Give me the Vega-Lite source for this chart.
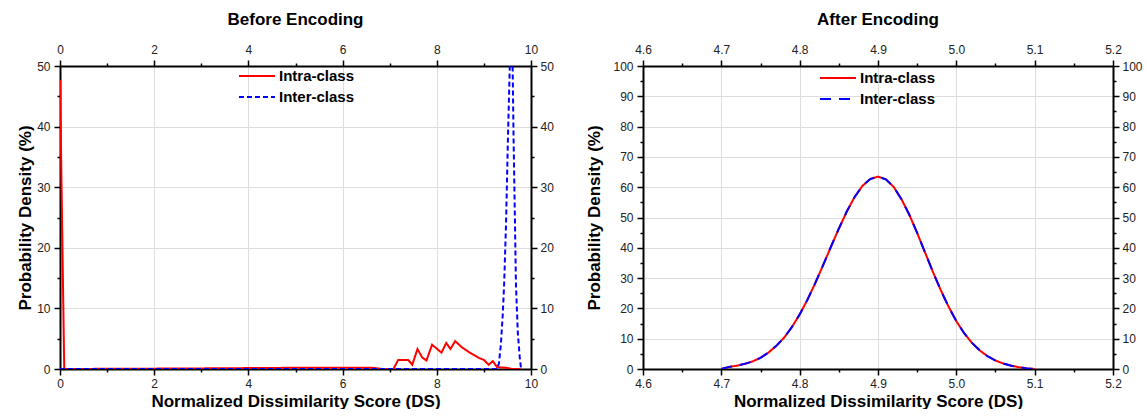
{
  "$schema": "https://vega.github.io/schema/vega-lite/v6.json",
  "background": "white",
  "padding": {"left": 16, "top": 11, "right": 0, "bottom": 0},
  "spacing": 31,
  "datasets": {
    "before": [
      {"x": 0, "y": 47.7, "series": "Intra-class"},
      {"x": 0.09, "y": 0.0, "series": "Intra-class"},
      {"x": 1, "y": 0.03, "series": "Intra-class"},
      {"x": 2, "y": 0.06, "series": "Intra-class"},
      {"x": 3, "y": 0.1, "series": "Intra-class"},
      {"x": 4, "y": 0.15, "series": "Intra-class"},
      {"x": 5, "y": 0.2, "series": "Intra-class"},
      {"x": 6, "y": 0.22, "series": "Intra-class"},
      {"x": 6.6, "y": 0.22, "series": "Intra-class"},
      {"x": 6.75, "y": 0.1, "series": "Intra-class"},
      {"x": 6.85, "y": 0.0, "series": "Intra-class"},
      {"x": 7.08, "y": 0.0, "series": "Intra-class"},
      {"x": 7.18, "y": 1.5, "series": "Intra-class"},
      {"x": 7.39, "y": 1.5, "series": "Intra-class"},
      {"x": 7.48, "y": 0.7, "series": "Intra-class"},
      {"x": 7.59, "y": 3.3, "series": "Intra-class"},
      {"x": 7.69, "y": 1.9, "series": "Intra-class"},
      {"x": 7.78, "y": 1.4, "series": "Intra-class"},
      {"x": 7.9, "y": 4.0, "series": "Intra-class"},
      {"x": 8.1, "y": 2.7, "series": "Intra-class"},
      {"x": 8.2, "y": 4.3, "series": "Intra-class"},
      {"x": 8.29, "y": 3.3, "series": "Intra-class"},
      {"x": 8.39, "y": 4.6, "series": "Intra-class"},
      {"x": 8.53, "y": 3.6, "series": "Intra-class"},
      {"x": 8.7, "y": 2.7, "series": "Intra-class"},
      {"x": 8.9, "y": 1.8, "series": "Intra-class"},
      {"x": 9.0, "y": 1.5, "series": "Intra-class"},
      {"x": 9.1, "y": 0.7, "series": "Intra-class"},
      {"x": 9.19, "y": 1.3, "series": "Intra-class"},
      {"x": 9.28, "y": 0.3, "series": "Intra-class"},
      {"x": 9.48, "y": 0.2, "series": "Intra-class"},
      {"x": 9.59, "y": 0.0, "series": "Intra-class"},
      {"x": 9.78, "y": 0.0, "series": "Intra-class"},
      {"x": 0, "y": 0, "series": "Inter-class"},
      {"x": 9.28, "y": 0, "series": "Inter-class"},
      {"x": 9.32, "y": 1, "series": "Inter-class"},
      {"x": 9.36, "y": 4, "series": "Inter-class"},
      {"x": 9.4, "y": 9, "series": "Inter-class"},
      {"x": 9.43, "y": 14, "series": "Inter-class"},
      {"x": 9.47, "y": 24, "series": "Inter-class"},
      {"x": 9.51, "y": 38, "series": "Inter-class"},
      {"x": 9.55, "y": 52, "series": "Inter-class"},
      {"x": 9.58, "y": 58, "series": "Inter-class"},
      {"x": 9.61, "y": 50, "series": "Inter-class"},
      {"x": 9.63, "y": 38, "series": "Inter-class"},
      {"x": 9.66, "y": 24, "series": "Inter-class"},
      {"x": 9.68, "y": 14, "series": "Inter-class"},
      {"x": 9.72, "y": 6, "series": "Inter-class"},
      {"x": 9.76, "y": 2, "series": "Inter-class"},
      {"x": 9.79, "y": 0, "series": "Inter-class"}
    ],
    "after": [
      {"x": 4.70, "y": 0, "series": "Intra-class"},
      {"x": 4.71, "y": 0.7, "series": "Intra-class"},
      {"x": 4.72, "y": 1.1, "series": "Intra-class"},
      {"x": 4.73, "y": 1.7, "series": "Intra-class"},
      {"x": 4.74, "y": 2.5, "series": "Intra-class"},
      {"x": 4.75, "y": 3.7, "series": "Intra-class"},
      {"x": 4.76, "y": 5.4, "series": "Intra-class"},
      {"x": 4.77, "y": 7.6, "series": "Intra-class"},
      {"x": 4.78, "y": 10.3, "series": "Intra-class"},
      {"x": 4.79, "y": 13.8, "series": "Intra-class"},
      {"x": 4.80, "y": 18.0, "series": "Intra-class"},
      {"x": 4.81, "y": 22.9, "series": "Intra-class"},
      {"x": 4.82, "y": 28.4, "series": "Intra-class"},
      {"x": 4.83, "y": 34.3, "series": "Intra-class"},
      {"x": 4.84, "y": 40.4, "series": "Intra-class"},
      {"x": 4.85, "y": 46.3, "series": "Intra-class"},
      {"x": 4.86, "y": 51.9, "series": "Intra-class"},
      {"x": 4.87, "y": 56.7, "series": "Intra-class"},
      {"x": 4.88, "y": 60.4, "series": "Intra-class"},
      {"x": 4.89, "y": 62.7, "series": "Intra-class"},
      {"x": 4.90, "y": 63.5, "series": "Intra-class"},
      {"x": 4.91, "y": 62.6, "series": "Intra-class"},
      {"x": 4.92, "y": 60.1, "series": "Intra-class"},
      {"x": 4.93, "y": 56.0, "series": "Intra-class"},
      {"x": 4.94, "y": 50.9, "series": "Intra-class"},
      {"x": 4.95, "y": 44.9, "series": "Intra-class"},
      {"x": 4.96, "y": 38.5, "series": "Intra-class"},
      {"x": 4.97, "y": 32.1, "series": "Intra-class"},
      {"x": 4.98, "y": 26.1, "series": "Intra-class"},
      {"x": 4.99, "y": 20.6, "series": "Intra-class"},
      {"x": 5.00, "y": 15.8, "series": "Intra-class"},
      {"x": 5.01, "y": 11.8, "series": "Intra-class"},
      {"x": 5.02, "y": 8.6, "series": "Intra-class"},
      {"x": 5.03, "y": 6.1, "series": "Intra-class"},
      {"x": 5.04, "y": 4.2, "series": "Intra-class"},
      {"x": 5.05, "y": 2.8, "series": "Intra-class"},
      {"x": 5.06, "y": 1.8, "series": "Intra-class"},
      {"x": 5.07, "y": 1.1, "series": "Intra-class"},
      {"x": 5.08, "y": 0.6, "series": "Intra-class"},
      {"x": 5.09, "y": 0.2, "series": "Intra-class"},
      {"x": 5.10, "y": 0, "series": "Intra-class"},
      {"x": 4.70, "y": 0, "series": "Inter-class"},
      {"x": 4.71, "y": 0.7, "series": "Inter-class"},
      {"x": 4.72, "y": 1.1, "series": "Inter-class"},
      {"x": 4.73, "y": 1.7, "series": "Inter-class"},
      {"x": 4.74, "y": 2.5, "series": "Inter-class"},
      {"x": 4.75, "y": 3.7, "series": "Inter-class"},
      {"x": 4.76, "y": 5.4, "series": "Inter-class"},
      {"x": 4.77, "y": 7.6, "series": "Inter-class"},
      {"x": 4.78, "y": 10.3, "series": "Inter-class"},
      {"x": 4.79, "y": 13.8, "series": "Inter-class"},
      {"x": 4.80, "y": 18.0, "series": "Inter-class"},
      {"x": 4.81, "y": 22.9, "series": "Inter-class"},
      {"x": 4.82, "y": 28.4, "series": "Inter-class"},
      {"x": 4.83, "y": 34.3, "series": "Inter-class"},
      {"x": 4.84, "y": 40.4, "series": "Inter-class"},
      {"x": 4.85, "y": 46.3, "series": "Inter-class"},
      {"x": 4.86, "y": 51.9, "series": "Inter-class"},
      {"x": 4.87, "y": 56.7, "series": "Inter-class"},
      {"x": 4.88, "y": 60.4, "series": "Inter-class"},
      {"x": 4.89, "y": 62.7, "series": "Inter-class"},
      {"x": 4.90, "y": 63.5, "series": "Inter-class"},
      {"x": 4.91, "y": 62.6, "series": "Inter-class"},
      {"x": 4.92, "y": 60.1, "series": "Inter-class"},
      {"x": 4.93, "y": 56.0, "series": "Inter-class"},
      {"x": 4.94, "y": 50.9, "series": "Inter-class"},
      {"x": 4.95, "y": 44.9, "series": "Inter-class"},
      {"x": 4.96, "y": 38.5, "series": "Inter-class"},
      {"x": 4.97, "y": 32.1, "series": "Inter-class"},
      {"x": 4.98, "y": 26.1, "series": "Inter-class"},
      {"x": 4.99, "y": 20.6, "series": "Inter-class"},
      {"x": 5.00, "y": 15.8, "series": "Inter-class"},
      {"x": 5.01, "y": 11.8, "series": "Inter-class"},
      {"x": 5.02, "y": 8.6, "series": "Inter-class"},
      {"x": 5.03, "y": 6.1, "series": "Inter-class"},
      {"x": 5.04, "y": 4.2, "series": "Inter-class"},
      {"x": 5.05, "y": 2.8, "series": "Inter-class"},
      {"x": 5.06, "y": 1.8, "series": "Inter-class"},
      {"x": 5.07, "y": 1.1, "series": "Inter-class"},
      {"x": 5.08, "y": 0.6, "series": "Inter-class"},
      {"x": 5.09, "y": 0.2, "series": "Inter-class"},
      {"x": 5.10, "y": 0, "series": "Inter-class"}
    ]
  },
  "hconcat": [
    {
      "width": 471,
      "height": 303,
      "title": {"text": "Before Encoding"},
      "data": {"name": "before"},
      "layer": [
        {
          "transform": [{"filter": "datum.series === 'Intra-class'"}],
          "mark": {"type": "line", "strokeWidth": 2, "clip": true},
          "encoding": {
            "x": {"field": "x", "type": "quantitative", "scale": {"domain": [0, 10], "nice": false, "zero": false},
              "axis": {"orient": "bottom", "title": "Normalized Dissimilarity Score (DS)", "values": [0,1,2,3,4,5,6,7,8,9,10],
                "labelExpr": "datum.value % 2 === 0 ? datum.label : ''",
                "tickSize": {"condition": {"test": "datum.value % 2 !== 0", "value": 3}, "value": 6},
                "gridOpacity": {"condition": {"test": "datum.value % 2 !== 0", "value": 0}, "value": 1},
                "labelPadding": 3, "titlePadding": 4}},
            "y": {"field": "y", "type": "quantitative", "scale": {"domain": [0, 50], "nice": false, "clamp": true},
              "axis": {"orient": "left", "title": "Probability Density (%)", "values": [0,5,10,15,20,25,30,35,40,45,50],
                "labelExpr": "datum.value % 10 === 0 ? datum.label : ''",
                "tickSize": {"condition": {"test": "datum.value % 10 !== 0", "value": 3}, "value": 6},
                "gridOpacity": {"condition": {"test": "datum.value % 10 !== 0", "value": 0}, "value": 1},
                "labelPadding": 4, "titlePadding": 2}},
            "color": {"field": "series", "type": "nominal", "scale": {"domain": ["Intra-class", "Inter-class"], "range": ["#ff0000", "#0000ff"]},
              "legend": {"orient": "none", "legendX": 187, "legendY": 0, "title": null}},
            "strokeDash": {"field": "series", "type": "nominal", "scale": {"domain": ["Intra-class", "Inter-class"], "range": [[1, 0], [5, 3]]},
              "legend": {"orient": "none", "legendX": 187, "legendY": 0, "title": null}}
          }
        },
        {
          "transform": [{"filter": "datum.series === 'Inter-class'"}],
          "mark": {"type": "line", "strokeWidth": 2, "clip": true},
          "encoding": {
            "x": {"field": "x", "type": "quantitative", "axis": null},
            "y": {"field": "y", "type": "quantitative", "axis": null},
            "color": {"field": "series", "type": "nominal"},
            "strokeDash": {"field": "series", "type": "nominal"}
          }
        },
        {
          "mark": {"type": "point", "opacity": 0, "clip": true},
          "encoding": {
            "x": {"field": "x", "type": "quantitative",
              "axis": {"orient": "top", "title": null, "grid": false, "values": [0,1,2,3,4,5,6,7,8,9,10],
                "labelExpr": "datum.value % 2 === 0 ? datum.label : ''",
                "tickSize": {"condition": {"test": "datum.value % 2 !== 0", "value": 3}, "value": 6},
                "labelPadding": 4}},
            "y": {"field": "y", "type": "quantitative",
              "axis": {"orient": "right", "title": null, "grid": false, "values": [0,5,10,15,20,25,30,35,40,45,50],
                "labelExpr": "datum.value % 10 === 0 ? datum.label : ''",
                "tickSize": {"condition": {"test": "datum.value % 10 !== 0", "value": 3}, "value": 6},
                "labelPadding": 3}}
          }
        }
      ],
      "resolve": {"axis": {"x": "independent", "y": "independent"}}
    },
    {
      "width": 470,
      "height": 303,
      "title": {"text": "After Encoding"},
      "data": {"name": "after"},
      "layer": [
        {
          "transform": [{"filter": "datum.series === 'Intra-class'"}],
          "mark": {"type": "line", "strokeWidth": 2, "clip": true},
          "encoding": {
            "x": {"field": "x", "type": "quantitative", "scale": {"domain": [4.6, 5.2], "nice": false, "zero": false},
              "axis": {"orient": "bottom", "title": "Normalized Dissimilarity Score (DS)", "values": [4.6,4.65,4.7,4.75,4.8,4.85,4.9,4.95,5.0,5.05,5.1,5.15,5.2],
                "labelExpr": "abs(datum.value*10 - round(datum.value*10)) > 0.01 ? '' : format(datum.value, '.1f')",
                "tickSize": {"condition": {"test": "abs(datum.value*10 - round(datum.value*10)) > 0.01", "value": 3}, "value": 6},
                "gridOpacity": {"condition": {"test": "abs(datum.value*10 - round(datum.value*10)) > 0.01", "value": 0}, "value": 1},
                "labelPadding": 3, "titlePadding": 4}},
            "y": {"field": "y", "type": "quantitative", "scale": {"domain": [0, 100], "nice": false},
              "axis": {"orient": "left", "title": "Probability Density (%)", "values": [0,5,10,15,20,25,30,35,40,45,50,55,60,65,70,75,80,85,90,95,100],
                "labelExpr": "datum.value % 10 === 0 ? datum.label : ''",
                "tickSize": {"condition": {"test": "datum.value % 10 !== 0", "value": 3}, "value": 6},
                "gridOpacity": {"condition": {"test": "datum.value % 10 !== 0", "value": 0}, "value": 1},
                "labelPadding": 4, "titlePadding": 9}},
            "color": {"field": "series", "type": "nominal", "scale": {"domain": ["Intra-class", "Inter-class"], "range": ["#ff0000", "#0000ff"]},
              "legend": {"orient": "none", "legendX": 185, "legendY": 2, "title": null}},
            "strokeDash": {"field": "series", "type": "nominal", "scale": {"domain": ["Intra-class", "Inter-class"], "range": [[1, 0], [11, 8]]},
              "legend": {"orient": "none", "legendX": 185, "legendY": 2, "title": null}}
          }
        },
        {
          "transform": [{"filter": "datum.series === 'Inter-class'"}],
          "mark": {"type": "line", "strokeWidth": 2, "clip": true},
          "encoding": {
            "x": {"field": "x", "type": "quantitative", "axis": null},
            "y": {"field": "y", "type": "quantitative", "axis": null},
            "color": {"field": "series", "type": "nominal"},
            "strokeDash": {"field": "series", "type": "nominal"}
          }
        },
        {
          "mark": {"type": "point", "opacity": 0},
          "encoding": {
            "x": {"field": "x", "type": "quantitative",
              "axis": {"orient": "top", "title": null, "grid": false, "values": [4.6,4.65,4.7,4.75,4.8,4.85,4.9,4.95,5.0,5.05,5.1,5.15,5.2],
                "labelExpr": "abs(datum.value*10 - round(datum.value*10)) > 0.01 ? '' : format(datum.value, '.1f')",
                "tickSize": {"condition": {"test": "abs(datum.value*10 - round(datum.value*10)) > 0.01", "value": 3}, "value": 6},
                "labelPadding": 4}},
            "y": {"field": "y", "type": "quantitative",
              "axis": {"orient": "right", "title": null, "grid": false, "values": [0,5,10,15,20,25,30,35,40,45,50,55,60,65,70,75,80,85,90,95,100],
                "labelExpr": "datum.value % 10 === 0 ? datum.label : ''",
                "tickSize": {"condition": {"test": "datum.value % 10 !== 0", "value": 3}, "value": 6},
                "labelPadding": 3}}
          }
        }
      ],
      "resolve": {"axis": {"x": "independent", "y": "independent"}}
    }
  ],
  "resolve": {"scale": {"color": "independent", "strokeDash": "independent"}, "legend": {"color": "independent", "strokeDash": "independent"}},
  "config": {
    "font": "Liberation Sans",
    "view": {"stroke": null},
    "axis": {
      "domainColor": "#000000", "domainWidth": 2,
      "tickColor": "#000000", "tickWidth": 1.5,
      "labelFont": "Liberation Sans", "labelFontSize": 12, "labelColor": "#222222",
      "labelFlush": false, "labelOverlap": false,
      "gridColor": "#dddddd", "gridWidth": 1,
      "titleFont": "Liberation Sans", "titleFontSize": 17, "titleFontWeight": "bold", "titleColor": "#000000"
    },
    "legend": {
      "padding": 0, "symbolType": "M-2,0H2", "symbolSize": 324, "symbolStrokeWidth": 2,
      "labelFont": "Liberation Sans", "labelFontSize": 15, "labelFontWeight": "bold", "labelColor": "#000000",
      "labelOffset": 12, "rowPadding": 3
    },
    "title": {"font": "Liberation Sans", "fontSize": 17, "fontWeight": "bold", "color": "#000000", "frame": "group", "anchor": "middle", "offset": 14}
  }
}
